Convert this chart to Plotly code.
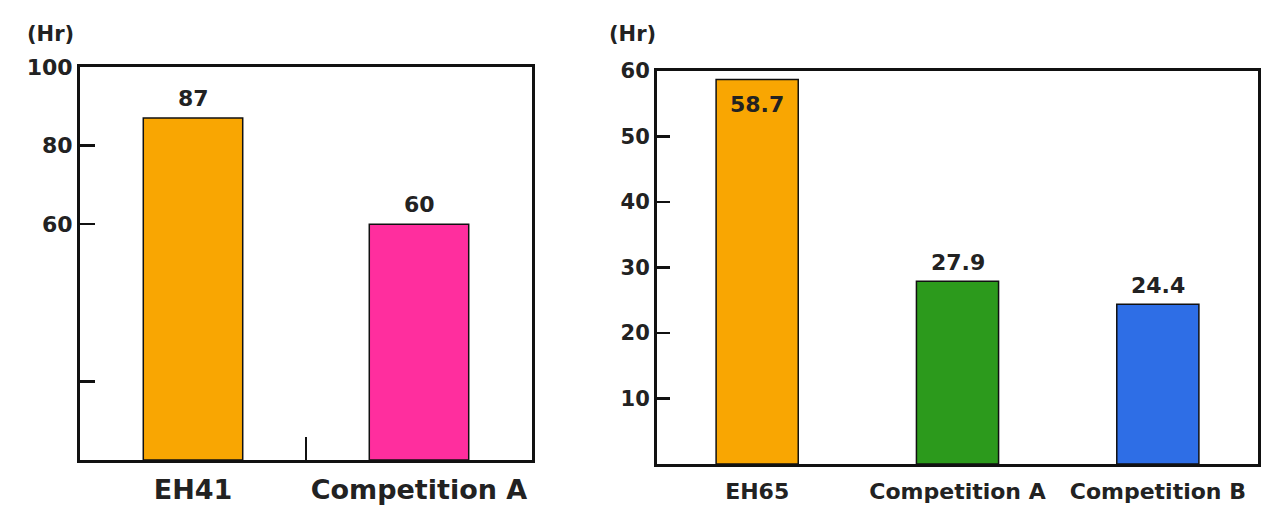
import plotly.graph_objects as go

# ---- data ----
left_categories = ["EH41", "Competition A"]
left_values = [87, 60]
left_labels = ["87", "60"]
left_colors = ["#F9A602", "#FF2E9E"]
left_tickvals = [20, 60, 80, 100]
left_ticktext = ["", "60", "80", "100"]

right_categories = ["EH65", "Competition A", "Competition B"]
right_values = [58.7, 27.9, 24.4]
right_labels = ["58.7", "27.9", "24.4"]
right_colors = ["#F9A602", "#2C9A1C", "#2E6EE6"]
right_tickvals = [10, 20, 30, 40, 50, 60]
right_ticktext = ["10", "20", "30", "40", "50", "60"]

unit_label = "(Hr)"

FONT = "DejaVu Sans"
TXT = "#222222"
W, H = 1274, 509


def px_x(p):
    return p / W


def px_y(p):
    return 1 - p / H


fig = go.Figure()

fig.add_trace(go.Bar(
    x=left_categories, y=left_values, width=0.44,
    marker=dict(color=left_colors, line=dict(color="#111111", width=1.5)),
    xaxis="x", yaxis="y", showlegend=False, hoverinfo="skip",
))
fig.add_trace(go.Bar(
    x=right_categories, y=right_values, width=0.41,
    marker=dict(color=right_colors, line=dict(color="#111111", width=1.5)),
    xaxis="x2", yaxis="y2", showlegend=False, hoverinfo="skip",
))

annotations = []
for c, v, t in zip(left_categories, left_values, left_labels):
    annotations.append(dict(x=c, y=v, xref="x", yref="y", text=t,
                            showarrow=False, yanchor="bottom", yshift=5,
                            font=dict(family=FONT, size=22, color=TXT, weight="bold")))
for c, v, t in zip(right_categories, right_values, right_labels):
    inside = v > 50
    annotations.append(dict(x=c, y=v, xref="x2", yref="y2", text=t,
                            showarrow=False,
                            yanchor="top" if inside else "bottom",
                            yshift=-10 if inside else 4,
                            font=dict(family=FONT, size=22, color=TXT, weight="bold")))
for xr in (76, 658):
    annotations.append(dict(x=px_x(xr), y=px_y(34), xref="paper", yref="paper",
                            text=unit_label, showarrow=False,
                            xanchor="right", yanchor="middle",
                            font=dict(family=FONT, size=21, color=TXT, weight="bold")))

axis_common = dict(showline=True, linecolor="#111111", linewidth=3, mirror=True,
                   showgrid=False, zeroline=False, fixedrange=True, automargin=False)

fig.update_layout(
    width=W, height=H,
    margin=dict(l=0, r=0, t=0, b=0),
    paper_bgcolor="white", plot_bgcolor="white",
    font=dict(family=FONT, color=TXT),
    annotations=annotations,
    xaxis=dict(domain=[px_x(80), px_x(532)], anchor="y", tickangle=0,
               ticks="inside", ticklen=23, tickwidth=2, tickcolor="#111111",
               tickson="boundaries", ticklabelstandoff=4,
               tickfont=dict(family=FONT, size=27, color=TXT, weight="bold"),
               **axis_common),
    yaxis=dict(domain=[px_y(460), px_y(67)], anchor="x", range=[0, 100],
               tickmode="array", tickvals=left_tickvals, ticktext=left_ticktext,
               ticks="inside", ticklen=15, tickwidth=2.5, tickcolor="#111111",
               tickfont=dict(family=FONT, size=22, color=TXT, weight="bold"),
               **axis_common),
    xaxis2=dict(domain=[px_x(657), px_x(1258)], anchor="y2", tickangle=0,
                ticks="", ticklabelstandoff=6,
                tickfont=dict(family=FONT, size=22, color=TXT, weight="bold"),
                **axis_common),
    yaxis2=dict(domain=[px_y(464), px_y(71)], anchor="x2", range=[0, 60],
                tickmode="array", tickvals=right_tickvals, ticktext=right_ticktext,
                ticks="inside", ticklen=13, tickwidth=2.5, tickcolor="#111111",
                tickfont=dict(family=FONT, size=21, color=TXT, weight="bold"),
                **axis_common),
)

fig.write_html(
    "out.html",
    config={"displayModeBar": False, "staticPlot": True},
    post_script="document.body.style.margin='0';document.body.style.overflow='hidden';",
)
